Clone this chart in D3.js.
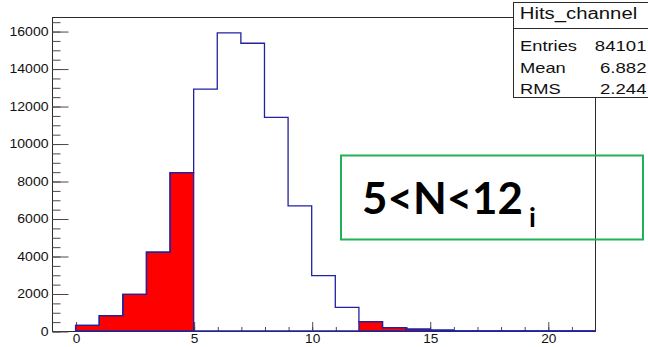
<!DOCTYPE html>
<html>
<head>
<meta charset="utf-8">
<script src="https://cdn.jsdelivr.net/npm/d3@7/dist/d3.min.js"></script>
<style>
  html, body { margin: 0; padding: 0; background: #fff; }
  svg { display: block; }
</style>
</head>
<body>
<svg id="chart" width="648" height="347"></svg>
<script>
// Histogram of hits per channel: unit-width bins from 0 to 22
const binLow = d3.range(0, 22);
const counts = [300, 820, 1950, 4200, 8450, 12900, 15900, 15350, 11400, 6670, 2950, 1265, 495, 175, 105, 50, 12, 6, 4, 2, 1, 1];
// bins outside the 5<N<12 window, drawn filled
const outsideBins = [0, 1, 2, 3, 4, 12, 13, 14, 15];

const xMajorTicks = [0, 5, 10, 15, 20];
const yMajorTicks = d3.range(0, 16001, 2000);

const statsTitle = "Hits_channel";
const statsNames = ["Entries", "Mean", "RMS"];
const statsValues = ["84101", "6.882", "2.244"];
const windowLabel = "5<N<12";
const windowSub = "i";

const svg = d3.select("#chart");
const padL = 52, padR = 595, padT = 17, padB = 331;

const x = d3.scaleLinear().domain([-1, 22]).range([padL, padR]);
const y = d3.scaleLinear().domain([0, 16750]).range([padB, padT]);

const histColor = "#22229f";
const frameColor = "#2a2a2a";
const tickColor = "#4a4a4a";

// stretch text horizontally by factor k
function widen(sel, k) {
  sel.each(function () {
    const len = this.getComputedTextLength();
    d3.select(this).attr("textLength", len * k).attr("lengthAdjust", "spacingAndGlyphs");
  });
}

// frame
svg.append("rect")
  .attr("x", padL + 0.5).attr("y", padT + 0.5)
  .attr("width", padR - padL).attr("height", padB - padT)
  .attr("fill", "none").attr("stroke", frameColor).attr("stroke-width", 1);

// y axis: major and minor ticks drawn inward
const yMinor = svg.append("g").attr("transform", `translate(${padL + 0.5},0.5)`)
  .call(d3.axisLeft(y).tickValues(d3.range(0, 16751, 500)).tickSize(-8).tickFormat(""));
const yMajor = svg.append("g").attr("transform", `translate(${padL + 0.5},0.5)`)
  .call(d3.axisLeft(y).tickValues(yMajorTicks).tickSize(-16).tickPadding(4).tickFormat(d3.format("d")));

// x axis
const xMinor = svg.append("g").attr("transform", `translate(0.5,${padB + 0.5})`)
  .call(d3.axisBottom(x).tickValues(d3.range(0, 22)).tickSize(-4.5).tickFormat(""));
const xMajor = svg.append("g").attr("transform", `translate(0.5,${padB + 0.5})`)
  .call(d3.axisBottom(x).tickValues(xMajorTicks).tickSize(-9.5).tickPadding(3).tickFormat(d3.format("d")));

[yMinor, yMajor, xMinor, xMajor].forEach(a => {
  a.select(".domain").remove();
  a.selectAll("line").attr("stroke", tickColor);
  a.selectAll("text")
    .attr("font-family", "Liberation Sans, Arial, sans-serif")
    .attr("font-size", 12.2)
    .attr("fill", "#111");
});
widen(yMajor.selectAll("text"), 1.15);
widen(xMajor.selectAll("text"), 1.12);

// step outline builder
function stepPoints(vals) {
  const pts = [[x(0), y(0)]];
  binLow.forEach((b, i) => {
    pts.push([x(b), y(vals[i])]);
    pts.push([x(b + 1), y(vals[i])]);
  });
  pts.push([x(22), y(0)]);
  return pts;
}
const line = d3.line();

const g = svg.append("g");
const redCounts = binLow.map((b, i) => outsideBins.includes(i) ? counts[i] : 0);

// filled histogram of the out-of-window bins
g.append("path")
  .attr("d", line(stepPoints(redCounts)) + "Z")
  .attr("fill", "#ff0000").attr("stroke", histColor).attr("stroke-width", 1.3);

// full histogram outline
g.append("path")
  .attr("d", line(stepPoints(counts)))
  .attr("fill", "none").attr("stroke", histColor).attr("stroke-width", 1.3);

// stats box
const sb = svg.append("g");
const bx = 513, by = 2, bw = 140, bh = 95, divY = 28;
sb.append("rect").attr("x", bx + 0.5).attr("y", by + 0.5).attr("width", bw).attr("height", bh)
  .attr("fill", "#fff").attr("stroke", frameColor).attr("stroke-width", 1);
sb.append("line").attr("x1", bx).attr("x2", bx + bw).attr("y1", divY + 0.5).attr("y2", divY + 0.5)
  .attr("stroke", frameColor);
const sFont = "Liberation Sans, Arial, sans-serif";
const tTitle = sb.append("text").attr("x", 578.5).attr("y", 19)
  .attr("text-anchor", "middle").attr("font-family", sFont).attr("font-size", 16)
  .attr("fill", "#111").text(statsTitle);
widen(tTitle, 1.27);
const rowsY = [50.7, 72.7, 94.2];
const nameT = sb.selectAll("text.name").data(statsNames).join("text").attr("class", "name")
  .attr("x", 520).attr("y", (d, i) => rowsY[i])
  .attr("font-family", sFont).attr("font-size", 14.3).attr("fill", "#111").text(d => d);
widen(nameT, 1.28);
const valT = sb.selectAll("text.val").data(statsValues).join("text").attr("class", "val")
  .attr("x", 646.5).attr("y", (d, i) => rowsY[i]).attr("text-anchor", "end")
  .attr("font-family", sFont).attr("font-size", 14.3).attr("fill", "#111").text(d => d);
widen(valT, 1.3);

// selection window annotation
const ann = svg.append("g");
ann.append("rect").attr("x", 341).attr("y", 155.5).attr("width", 302).attr("height", 84)
  .attr("fill", "none").attr("stroke", "#1fb257").attr("stroke-width", 2);
const lbl = ann.append("text").attr("x", 362).attr("y", 214)
  .attr("font-family", "Lato, 'Open Sans', sans-serif").attr("font-weight", 700)
  .attr("font-size", 44).attr("fill", "#000").text(windowLabel);
lbl.attr("textLength", 161).attr("lengthAdjust", "spacingAndGlyphs");
ann.append("text").attr("x", 529).attr("y", 227)
  .attr("font-family", "Lato, 'Open Sans', sans-serif").attr("font-weight", 700)
  .attr("font-size", 27).attr("fill", "#000").text(windowSub);
</script>
</body>
</html>
